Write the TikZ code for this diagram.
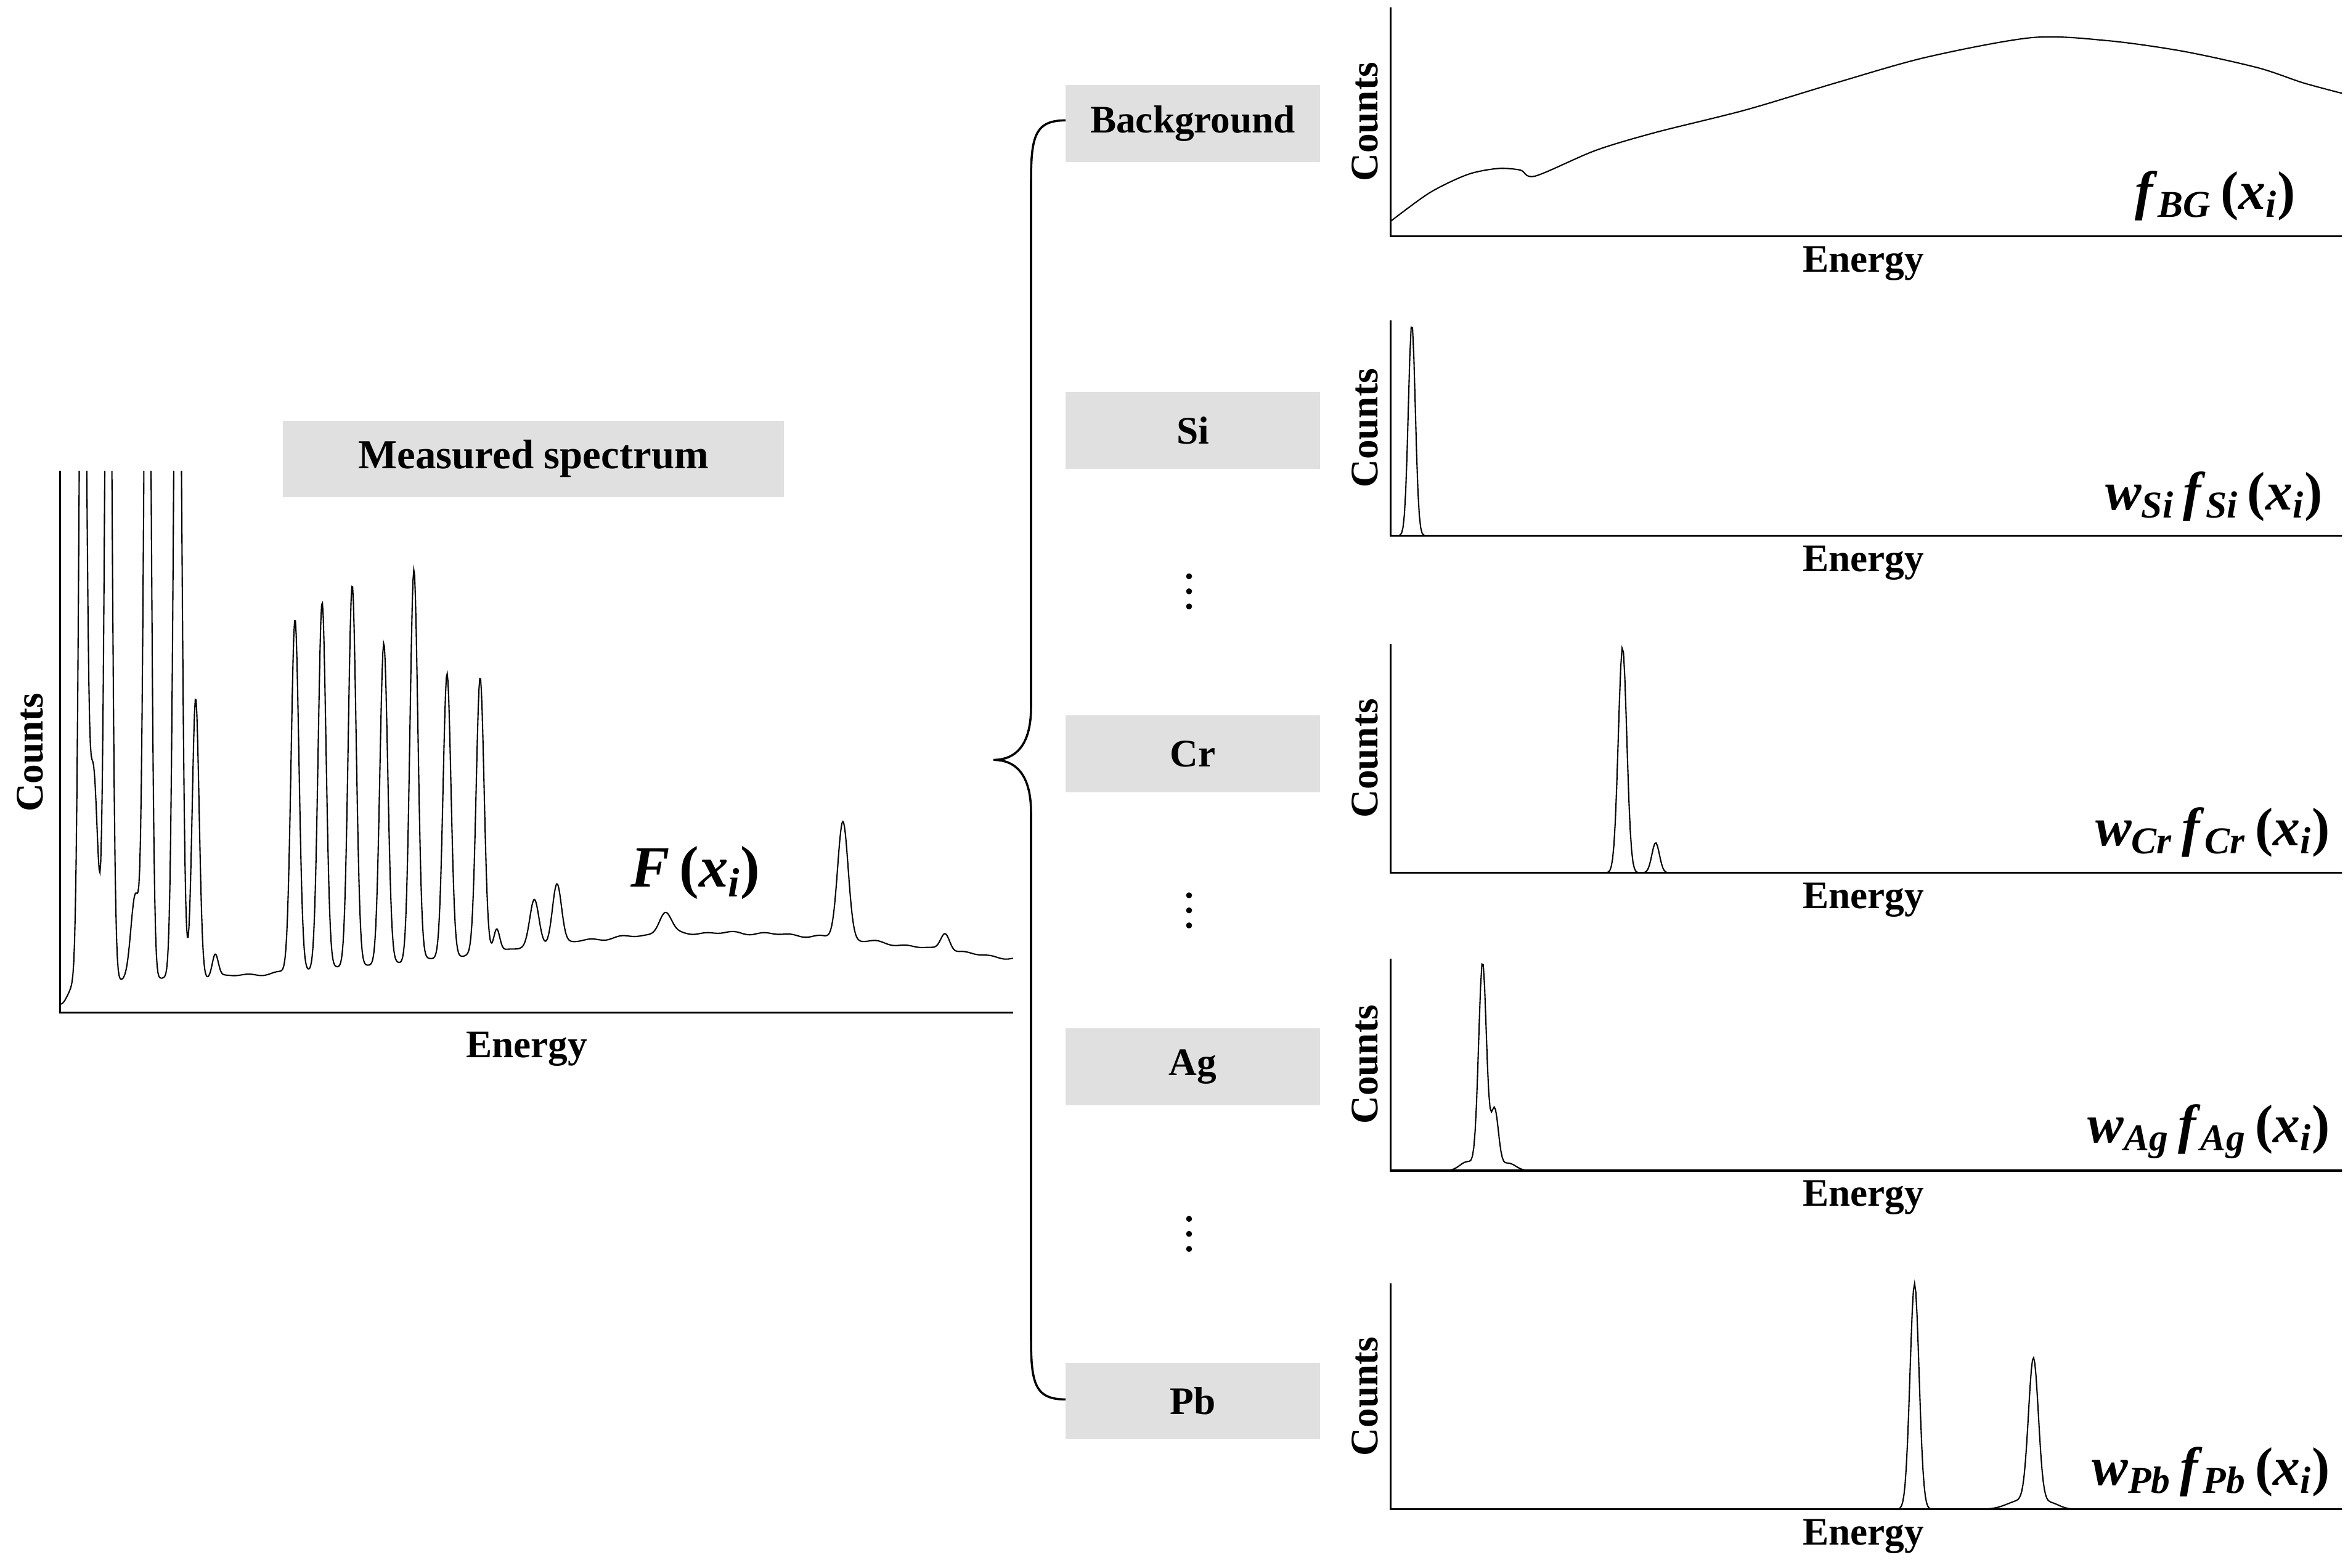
\documentclass[tikz,border=0pt]{standalone}
\usepackage{fontspec}
\setmainfont{Liberation Serif}
\begin{document}
\begin{tikzpicture}[x=0.02442cm,y=-0.02442cm,
  declare function={g(\x,\m,\s)=exp(-0.5*min(abs((\x-\m)/\s),9)*min(abs((\x-\m)/\s),9));},
  lbl/.style={font=\fontsize{18}{21}\selectfont\bfseries},
  box/.style={fill=black!12,minimum width=169*0.02442cm,minimum height=51*0.02442cm,inner sep=0pt,lbl},
  ax/.style={line width=1pt},
  sp/.style={line width=0.6pt},
  ml/.style={font=\fontsize{25}{29}\selectfont\bfseries, anchor=east}]
\useasboundingbox (0,0) rectangle (1560,1042);
% main plot
\draw[ax] (40,313) -- (40,673) -- (673,673);
\node[lbl,rotate=90] (mc) at (20,500) {Counts};
\node[lbl] (me) at (350,697) {Energy};
\node[box,minimum width=333*0.02442cm,font=\fontsize{19}{22}\selectfont\bfseries] (ms) at (354.5,305) {Measured spectrum};
\node[font=\fontsize{27}{31}\selectfont\bfseries] (F) at (462,580) {\textit{F}\,(\textit{x}\textsubscript{\textit{i}})};
\begin{scope}
\clip (40,313) rectangle (680,680);
\draw[sp] plot[domain=40:673,samples=1200] (\x,{652-32*exp(-((\x-480)/220)^2)+15*g(\x,40,5)+0.6*sin(\x*19)+0.5*sin(\x*11)
 -600*g(\x,55,2.2)-140*g(\x,62,3)-600*g(\x,72,2.2)-55*g(\x,90,3)-600*g(\x,98,2.2)-600*g(\x,118,2.4)-185*g(\x,130,2.3)-15*g(\x,143,2)
 -235*g(\x,196,2.6)-245*g(\x,214,2.6)-255*g(\x,234,2.6)-213*g(\x,255,2.6)-260*g(\x,275,2.6)-188*g(\x,297,2.6)-182*g(\x,319,2.6)-15*g(\x,330,2)
 -30*g(\x,355,3)-40*g(\x,370,3)-15*g(\x,442,4)-78*g(\x,560,3.5)-12*g(\x,628,3)});
\end{scope}
% brace
\coordinate (bt) at (708,80); \coordinate (bb) at (708,930); \coordinate (bm) at (660,505);
\draw[line width=1pt] (bt) .. controls (688,80) and (685,90) .. (685,120) -- (685,470) .. controls (685,495) and (675,505) .. (bm)
  .. controls (675,505) and (685,515) .. (685,540) -- (685,890) .. controls (685,920) and (688,930) .. (bb);
% boxes
\node[box] (bg) at (792.5,82) {Background};
\node[box] (si) at (792.5,286) {Si};
\node[box] (cr) at (792.5,501) {Cr};
\node[box] (ag) at (792.5,709) {Ag};
\node[box] (pb) at (792.5,931) {Pb};
\foreach \yy/\n in {393/d1,605/d2,820/d3}{
  \node (\n) at (790,\yy) {};
  \foreach \dd in {-10,0,10} \fill (790,\yy+\dd) circle (2);}
% right plots
\foreach \t/\b/\n in {5/157/a,213/356/b,428/580/c,637/778/d,853/1003/e}{
  \draw[ax] (924,\t) -- (924,\b) -- (1556,\b);
  \node[lbl,rotate=90] (c\n) at (907,{(\t+\b)/2}) {Counts};
  \node[lbl] (e\n) at (1238,\b+18) {Energy};}
\draw[sp] plot[smooth] coordinates {(924,147) (950,128) (975,116) (995,112) (1010,113) (1020,117) (1060,100) (1100,88) (1160,73) (1220,55) (1280,38) (1350,25) (1400,27) (1450,34) (1500,45) (1530,55) (1556,62)};
\draw[sp] plot[domain=924:1556,samples=700] (\x,{356-141*g(\x,938,2.3)});
\draw[sp] plot[domain=924:1556,samples=700] (\x,{580-150*g(\x,1078,2.8)-20*g(\x,1100,2.5)});
\draw[sp] plot[domain=924:1556,samples=700] (\x,{778-138*g(\x,985,2.6)-40*g(\x,993,2.5)-6*g(\x,975,5)-5*g(\x,1002,5)});
\draw[sp] plot[domain=924:1556,samples=800] (\x,{1003-150*g(\x,1272,3)-96*g(\x,1351,3.3)-6*g(\x,1343,9)-4*g(\x,1362,6)});
\node[ml] (l1) at (1530,130) {\textit{f}\textsubscript{\textit{BG}}\,(\textit{x}\textsubscript{\textit{i}})};
\node[ml] (l2) at (1548,330) {\textit{w}\textsubscript{\textit{Si}}\,\textit{f}\textsubscript{\textit{Si}}\,(\textit{x}\textsubscript{\textit{i}})};
\node[ml] (l3) at (1553,553) {\textit{w}\textsubscript{\textit{Cr}}\,\textit{f}\textsubscript{\textit{Cr}}\,(\textit{x}\textsubscript{\textit{i}})};
\node[ml] (l4) at (1553,752) {\textit{w}\textsubscript{\textit{Ag}}\,\textit{f}\textsubscript{\textit{Ag}}\,(\textit{x}\textsubscript{\textit{i}})};
\node[ml] (l5) at (1553,978) {\textit{w}\textsubscript{\textit{Pb}}\,\textit{f}\textsubscript{\textit{Pb}}\,(\textit{x}\textsubscript{\textit{i}})};
\end{tikzpicture}
\end{document}
